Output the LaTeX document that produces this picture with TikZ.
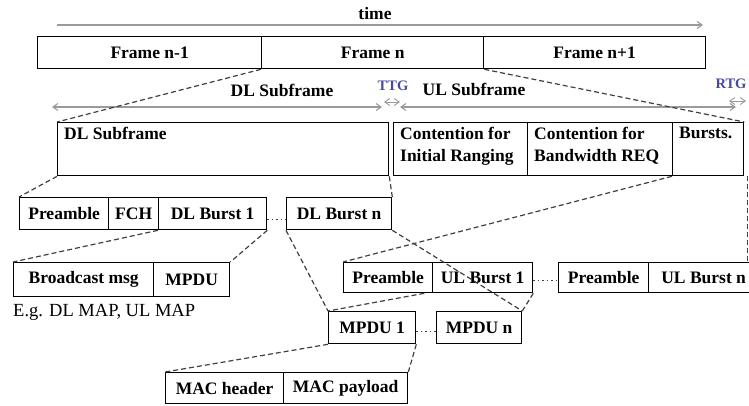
\documentclass[tikz,border=0pt]{standalone}
\usepackage{fontspec}
\setmainfont{Liberation Serif}
\usetikzlibrary{arrows.meta}
\definecolor{axisgray}{HTML}{9A9A9A}
\definecolor{dashgray}{HTML}{404040}
\definecolor{gapblue}{HTML}{4A4A9C}
\tikzset{
  boxfont/.style={font=\fontsize{17.5}{22}\selectfont\bfseries},
  cell/.style={draw=black, line width=1.3pt, anchor=north west, inner sep=0pt, boxfont},
  intext/.style={anchor=north west, inner sep=5pt, align=left, boxfont},
  caption/.style={inner sep=0pt, boxfont},
  gaptext/.style={inner sep=0pt, text=gapblue, font=\fontsize{14.5}{16}\selectfont\bfseries},
  plain/.style={inner sep=0pt, font=\fontsize{18.5}{21}\selectfont},
  timeline/.style={axisgray, line width=1.1pt, -{Straight Barb[length=5pt,width=7pt]}},
  span/.style={axisgray, line width=1.1pt, {Straight Barb[length=5pt,width=7pt]}-{Straight Barb[length=5pt,width=7pt]}},
  link/.style={dashgray, line width=1.2pt, dash pattern=on 5pt off 3pt},
  gap/.style={dashgray, line width=1pt, dash pattern=on 1.5pt off 3pt}
}
\begin{document}
\begin{tikzpicture}[x=1pt,y=-1pt]
\useasboundingbox (0,0) rectangle (749,405);
\clip (0,0) rectangle (749,405);

% time axis
\coordinate (t0) at (57,25);
\coordinate (t1) at (703,25);
\draw[timeline] (t0) -- (t1);
\node[caption] (time) at (375,14) {time};

% frames
\node[cell, minimum width=224pt, minimum height=32pt] (fprev) at (37,36) {Frame n-1};
\node[cell, minimum width=222pt, minimum height=32pt] (fcur) at (261,36) {Frame n};
\node[cell, minimum width=222pt, minimum height=32pt] (fnext) at (483,36) {Frame n+1};

% subframe spans and gaps
\coordinate (dlA) at (52,107);
\coordinate (dlB) at (382,107);
\draw[span] (dlA) -- (dlB);
\node[caption] (dllab) at (282,90) {DL Subframe};
\coordinate (ttgA) at (384,102);
\coordinate (ttgB) at (400,102);
\draw[span, line width=0.9pt] (ttgA) -- (ttgB);
\node[gaptext] (ttg) at (393,86) {TTG};
\coordinate (ulA) at (400,107);
\coordinate (ulB) at (736,107);
\draw[span] (ulA) -- (ulB);
\node[caption] (ullab) at (474,89) {UL Subframe};
\coordinate (rtgA) at (729,101);
\coordinate (rtgB) at (746,101);
\draw[span, line width=0.9pt] (rtgA) -- (rtgB);
\node[gaptext] (rtg) at (731,84) {RTG};

% DL and UL subframes
\node[cell, minimum width=331pt, minimum height=53pt] (dlsub) at (57,122) {};
\node[intext] (dlsubtxt) at ([xshift=2pt]dlsub.north west) {DL Subframe};
\node[cell, minimum width=134pt, minimum height=53pt] (ulrng) at (393,122) {};
\node[intext] (ulrngtxt) at ([xshift=2pt]ulrng.north west) {Contention for\\Initial Ranging};
\node[cell, minimum width=145pt, minimum height=53pt] (ulbw) at (527,122) {};
\node[intext] (ulbwtxt) at ([xshift=2pt]ulbw.north west) {Contention for\\Bandwidth REQ};
\node[cell, minimum width=71pt, minimum height=53pt] (ulbst) at (672,122) {};
\node[intext] (ulbsttxt) at ([xshift=2pt]ulbst.north west) {Bursts.};

% DL bursts
\node[cell, minimum width=89pt, minimum height=32pt] (pre1) at (19,197) {Preamble};
\node[cell, minimum width=50pt, minimum height=32pt] (fch) at (108,197) {FCH};
\node[cell, minimum width=108pt, minimum height=32pt] (dlb1) at (158,197) {DL Burst 1};
\node[cell, minimum width=105pt, minimum height=32pt] (dlbn) at (286,197) {DL Burst n};
\draw[gap] ([yshift=-6pt]dlb1.east) -- ([yshift=-6pt]dlbn.west);

% broadcast
\node[cell, minimum width=140pt, minimum height=34pt] (bcast) at (13,262) {Broadcast msg};
\node[cell, minimum width=76pt, minimum height=34pt] (mpdu) at (153,262) {MPDU};
\node[plain, anchor=west] (eg) at (13,312) {E.g. DL MAP, UL MAP};

% UL bursts
\node[cell, minimum width=89pt, minimum height=30pt] (ulpre1) at (343,262) {Preamble};
\node[cell, minimum width=100pt, minimum height=30pt] (ulb1) at (432,262) {UL Burst 1};
\node[cell, minimum width=90pt, minimum height=30pt] (ulpren) at (558,262) {Preamble};
\node[cell, minimum width=110pt, minimum height=30pt] (ulbn) at (648,262) {UL Burst n};
\draw[gap] ([yshift=-3pt]ulb1.east) -- ([yshift=-3pt]ulpren.west);

% MPDUs
\node[cell, minimum width=87pt, minimum height=32pt] (mp1) at (328,311) {MPDU 1};
\node[cell, minimum width=85pt, minimum height=32pt] (mpn) at (436,311) {MPDU n};
\draw[gap] ([yshift=-4pt]mp1.east) -- ([yshift=-4pt]mpn.west);

% MAC PDU
\node[cell, minimum width=118pt, minimum height=31pt] (mach) at (165,372) {MAC header};
\node[cell, minimum width=124pt, minimum height=31pt] (macp) at (283,372) {MAC payload};

% zoom-in connectors
\draw[link] (fcur.south west) -- (dlsub.north west);
\draw[link] (fcur.south east) -- (ulbst.north east);
\draw[link] (dlsub.south west) -- (pre1.north west);
\draw[link] (dlsub.south east) -- (dlbn.north east);
\draw[link] (dlb1.south west) -- (bcast.north west);
\draw[link] (dlb1.south east) -- (mpdu.north east);
\draw[link] (ulbst.south west) -- (ulpre1.north west);
\draw[link] ([xshift=3pt]ulbst.south east) -- ([xshift=3pt]ulbst.south east |- ulbn.north);
\draw[link] (dlbn.south west) -- (mp1.north west);
\draw[link] (dlbn.south east) -- (mpn.north east);
\draw[link] ([xshift=-9pt]ulpre1.south east) -- (mp1.north west);
\draw[link] (ulb1.south east) -- (mpn.north east);
\draw[link] (mp1.south west) -- (mach.north west);
\draw[link] (mp1.south east) -- (macp.north east);
\end{tikzpicture}
\end{document}
